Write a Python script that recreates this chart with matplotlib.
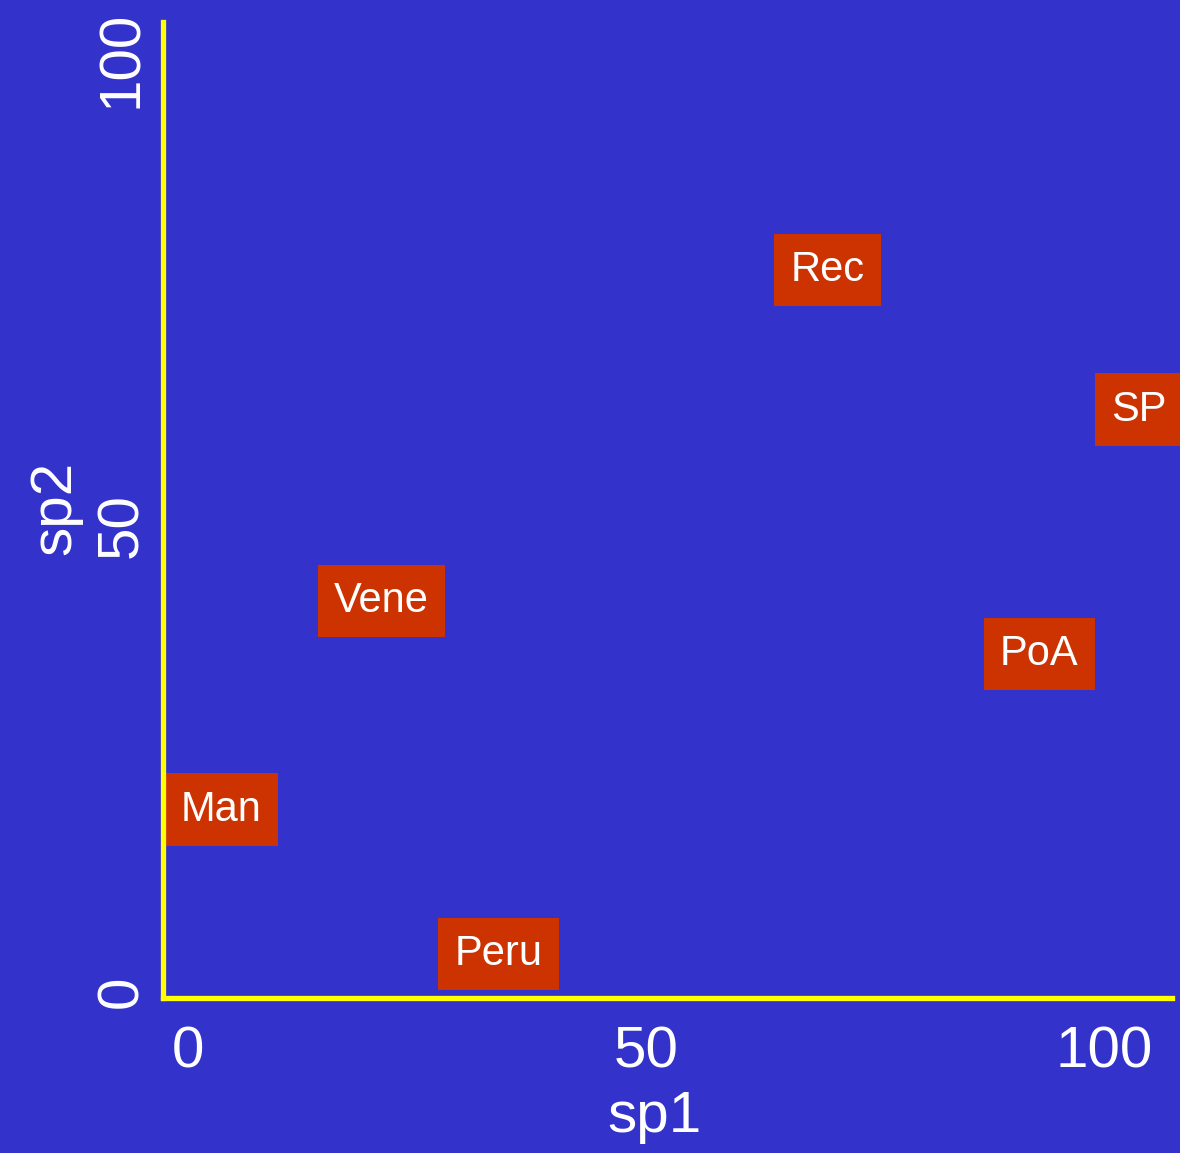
import matplotlib
matplotlib.use("Agg")
import matplotlib.pyplot as plt

plt.rcParams['font.family'] = ['Liberation Sans', 'DejaVu Sans']

# data
cities = ['Rec', 'SP', 'Vene', 'PoA', 'Man', 'Peru']
sp1 = [69.8, 103.8, 21.1, 92.9, 3.6, 33.9]
sp2 = [77.4, 62.4, 41.9, 36.2, 19.5, 4.0]
ticks = [0, 50, 100]

bg = '#3333cc'
fig = plt.figure(figsize=(11.8, 11.53), dpi=100, facecolor=bg)
ax = fig.add_axes([0.1381, 0.1344, 0.8551, 0.8465], facecolor=bg)

for name, x, y in zip(cities, sp1, sp2):
    ax.text(x, y, name, ha='center', va='center', color='white', fontsize=30,
            bbox=dict(boxstyle='square,pad=0.39', fc='#cc3300', ec='none'),
            clip_on=False)

ax.set_xlim(-2.76, 107.4)
ax.set_ylim(-0.72, 104.0)
ax.set_xticks(ticks)
ax.set_yticks(ticks)
ax.set_xticklabels([str(t) for t in ticks])
ax.set_yticklabels([str(t) for t in ticks], rotation=90, va='center')

ax.tick_params(axis='x', length=0, pad=20, labelsize=42, colors='white')
ax.tick_params(axis='y', length=0, pad=10, labelsize=42, colors='white')

for s in ['top', 'right']:
    ax.spines[s].set_visible(False)
for s in ['left', 'bottom']:
    ax.spines[s].set_color('yellow')
    ax.spines[s].set_linewidth(3.8)
    ax.spines[s].set_zorder(5)

ax.set_xlabel('sp1', fontsize=42, color='white', va='center')
ax.set_ylabel('sp2', fontsize=42, color='white', va='center')
ax.xaxis.set_label_coords(0.4876, -0.122)
ax.yaxis.set_label_coords(-0.107, 0.502)

fig.savefig('out.png', dpi=100, facecolor=bg)
